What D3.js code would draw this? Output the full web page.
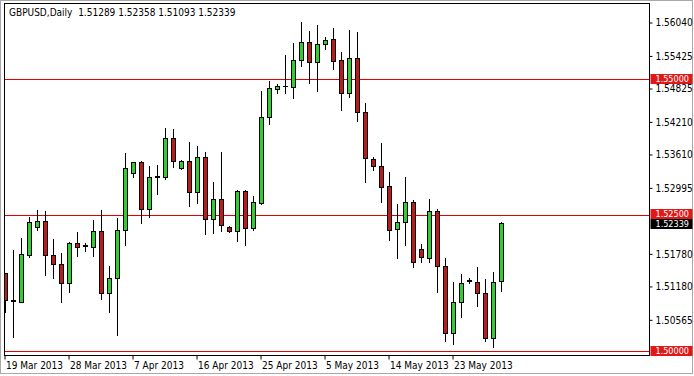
<!DOCTYPE html>
<html>
<head>
<meta charset="utf-8">
<script src="https://cdn.jsdelivr.net/npm/d3@7"></script>
<style>
  body { margin: 0; background: #fff; }
  svg { display: block; }
  text { font-family: "DejaVu Sans Condensed", "DejaVu Sans", "Liberation Sans", sans-serif; }
</style>
</head>
<body>
<script>
// daily bars (forex, Sunday sessions included)
const dates = [
  "2013-03-19","2013-03-20","2013-03-21","2013-03-22","2013-03-24","2013-03-25","2013-03-26","2013-03-27","2013-03-28","2013-03-29","2013-03-31",
  "2013-04-01","2013-04-02","2013-04-03","2013-04-04","2013-04-05","2013-04-07","2013-04-08","2013-04-09","2013-04-10","2013-04-11","2013-04-12",
  "2013-04-14","2013-04-15","2013-04-16","2013-04-17","2013-04-18","2013-04-19","2013-04-21","2013-04-22","2013-04-23","2013-04-24","2013-04-25",
  "2013-04-26","2013-04-28","2013-04-29","2013-04-30","2013-05-01","2013-05-02","2013-05-03","2013-05-05","2013-05-06","2013-05-07","2013-05-08",
  "2013-05-09","2013-05-10","2013-05-12","2013-05-13","2013-05-14","2013-05-15","2013-05-16","2013-05-17","2013-05-19","2013-05-20","2013-05-21",
  "2013-05-22","2013-05-23","2013-05-24","2013-05-26","2013-05-27","2013-05-28","2013-05-29","2013-05-30"
];
const opens = [
  1.51430,1.50930,1.50902,1.51761,1.52282,1.52387,1.51756,1.51590,1.51240,1.51976,1.51935,
  1.51914,1.52203,1.51056,1.51343,1.52221,1.53265,1.53467,1.52602,1.53195,1.53191,1.53909,
  1.53357,1.53496,1.52926,1.53559,1.52418,1.52797,1.52282,1.52208,1.52944,1.52252,1.52724,
  1.54295,1.54810,1.54865,1.54858,1.55350,1.55675,1.55307,1.55644,1.55731,1.55350,1.54737,
  1.55381,1.54398,1.53522,1.53404,1.53031,1.52234,1.52363,1.52731,1.51871,1.51711,1.52576,
  1.51564,1.50320,1.50902,1.51285,1.51270,1.51056,1.50228,1.51289
];
const highs = [
  1.51430,1.51853,1.52079,1.52466,1.52589,1.52576,1.52050,1.51792,1.52000,1.52179,1.51987,
  1.52405,1.52589,1.51564,1.52436,1.53633,1.53467,1.53491,1.53404,1.53417,1.54093,1.54080,
  1.53500,1.53835,1.53767,1.53662,1.53099,1.53651,1.52295,1.52950,1.52950,1.52847,1.54785,
  1.54963,1.54908,1.55442,1.55663,1.56045,1.55883,1.55994,1.55773,1.55939,1.55491,1.55902,
  1.55859,1.54553,1.53570,1.53817,1.53283,1.52700,1.53191,1.52773,1.51958,1.52786,1.52602,
  1.51711,1.51259,1.51406,1.51343,1.51535,1.51319,1.51443,1.52358
];
const lows = [
  1.50712,1.50252,1.50896,1.51730,1.52221,1.51393,1.51332,1.50902,1.51086,1.51748,1.51840,
  1.51748,1.50951,1.50718,1.50289,1.51945,1.53202,1.52355,1.52466,1.52884,1.53154,1.53386,
  1.53338,1.52663,1.52713,1.52142,1.52171,1.52208,1.52179,1.52024,1.51945,1.52221,1.52700,
  1.54166,1.54737,1.54748,1.54656,1.55239,1.54932,1.54785,1.55561,1.55179,1.54430,1.54674,
  1.54233,1.53110,1.53325,1.52742,1.52037,1.51711,1.51945,1.51546,1.51627,1.51638,1.51086,
  1.50166,1.50118,1.50615,1.51240,1.50828,1.50166,1.50062,1.51093
];
const closes = [
  1.50933,1.50920,1.51774,1.52363,1.52387,1.51756,1.51590,1.51240,1.51976,1.51914,1.51930,
  1.52203,1.51056,1.51343,1.52221,1.53357,1.53467,1.52602,1.53191,1.53205,1.53909,1.53496,
  1.53496,1.52926,1.53559,1.52418,1.52797,1.52313,1.52208,1.52944,1.52252,1.52742,1.54295,
  1.54829,1.54871,1.54870,1.55350,1.55675,1.55307,1.55644,1.55718,1.55337,1.54737,1.55381,
  1.54398,1.53552,1.53404,1.53018,1.52221,1.52363,1.52731,1.51627,1.51719,1.52576,1.51564,
  1.50320,1.50902,1.51240,1.51290,1.51056,1.50228,1.51270,1.52339
];

const dateTicks = ["2013-03-19","2013-03-28","2013-04-07","2013-04-16","2013-04-25","2013-05-05","2013-05-14","2013-05-23"];
// the 1.52395 grid label sits under the close tag in the terminal, so it is left out
const priceTicks = [1.56040,1.55425,1.54825,1.54210,1.53610,1.52995,1.51780,1.51180,1.50565];
const levels = [1.55000, 1.52500, 1.50000];
const symbol = "GBPUSD,Daily";

const [w, h] = [694, 376];
const plot = { left: 4.5, top: 3.5, right: 649.5, bottom: 355.5 };

const bars = dates.map((d, i) => ({ date: d, o: opens[i], h: highs[i], l: lows[i], c: closes[i] }));
const last = bars[bars.length - 1];

const svg = d3.select('body')
    .append('svg')
    .attr('width', w)
    .attr('height', h);

// window frame
svg.append('rect')
    .attr('x', 0.5).attr('y', 0.5)
    .attr('width', w - 2).attr('height', h - 3)
    .attr('fill', 'none')
    .attr('stroke', '#a8a8a8');

// Scales
const xScale = d3.scaleBand()
    .domain(dates)
    .range([1, 1 + dates.length * 8])
    .padding(0);

const yScale = d3.scaleLinear()
    .domain([1.50, 1.55])
    .range([350.5, 79]);

const cx = d => xScale(d) + xScale.bandwidth() / 2;
const fmt = d3.format('.5f');
const parse = d3.timeParse('%Y-%m-%d');

svg.append('clipPath')
    .attr('id', 'clip')
    .append('rect')
    .attr('x', plot.left).attr('y', plot.top)
    .attr('width', plot.right - plot.left).attr('height', plot.bottom - plot.top);

// header
svg.append('text')
    .attr('x', 9)
    .attr('y', 16)
    .attr('font-size', '10px')
    .attr('fill', '#000')
    .attr('xml:space', 'preserve')
    .text(`${symbol}  ${fmt(last.o)} ${fmt(last.h)} ${fmt(last.l)} ${fmt(last.c)}`);

// level lines
svg.append('g')
    .attr('shape-rendering', 'crispEdges')
    .selectAll('line')
    .data(levels)
    .enter()
    .append('line')
    .attr('x1', plot.left).attr('x2', plot.right)
    .attr('y1', d => Math.round(yScale(d)) + 0.5)
    .attr('y2', d => Math.round(yScale(d)) + 0.5)
    .attr('stroke', '#e00000')
    .attr('stroke-width', 1);

// candles
const candles = svg.append('g')
    .attr('clip-path', 'url(#clip)')
    .attr('shape-rendering', 'crispEdges');

const candle = candles.selectAll('g')
    .data(bars)
    .enter()
    .append('g');

candle.append('line')
    .attr('x1', d => cx(d.date) + 0.5).attr('x2', d => cx(d.date) + 0.5)
    .attr('y1', d => Math.round(yScale(d.h)))
    .attr('y2', d => Math.round(yScale(d.l)) + 1)
    .attr('stroke', '#000');

candle.each(function (d) {
    const g = d3.select(this);
    const yTop = Math.round(yScale(Math.max(d.o, d.c)));
    const yBot = Math.round(yScale(Math.min(d.o, d.c)));
    if (yBot - yTop < 1) {
        g.append('line')
            .attr('x1', cx(d.date) - 2).attr('x2', cx(d.date) + 3)
            .attr('y1', yTop + 0.5).attr('y2', yTop + 0.5)
            .attr('stroke', '#000');
    } else {
        g.append('rect')
            .attr('x', cx(d.date) - 1.5)
            .attr('y', yTop + 0.5)
            .attr('width', 4)
            .attr('height', yBot - yTop)
            .attr('fill', d.c >= d.o ? '#33cc33' : '#b81c1c')
            .attr('stroke', '#000');
    }
});

// plot frame
svg.append('rect')
    .attr('x', plot.left).attr('y', plot.top)
    .attr('width', plot.right - plot.left).attr('height', plot.bottom - plot.top)
    .attr('fill', 'none')
    .attr('stroke', '#000')
    .attr('shape-rendering', 'crispEdges');

// Axes
const xAxis = d3.axisBottom(xScale)
    .tickValues(dateTicks)
    .tickSize(4)
    .tickSizeOuter(0)
    .tickFormat(d => d3.timeFormat('%-d %b %Y')(parse(d)));

const gx = svg.append('g')
    .attr('transform', `translate(0, ${plot.bottom})`)
    .call(xAxis);
gx.select('.domain').remove();
gx.selectAll('.tick text')
    .attr('text-anchor', 'start')
    .attr('x', 1)
    .attr('y', 13.5)
    .attr('dy', 0)
    .attr('font-family', null)
    .attr('font-size', '10px')
    .attr('fill', '#000');

const yAxis = d3.axisRight(yScale)
    .tickValues(priceTicks)
    .tickSize(3)
    .tickSizeOuter(0)
    .tickFormat(fmt);

const gy = svg.append('g')
    .attr('transform', `translate(${plot.right}, 0)`)
    .call(yAxis);
gy.select('.domain').remove();
gy.selectAll('.tick text')
    .attr('x', 6)
    .attr('font-family', null)
    .attr('font-size', '10px')
    .attr('fill', '#000');

// price tags on the axis (close tag sits just under the 1.525 tag)
const tags = [
    { v: levels[0], bg: '#e01818', dy: 0 },
    { v: levels[1], bg: '#e01818', dy: -1 },
    { v: levels[2], bg: '#e01818', dy: 0 },
    { v: last.c, bg: '#000', dy: 1 }
];

const tag = svg.append('g')
    .selectAll('g')
    .data(tags)
    .enter()
    .append('g')
    .attr('transform', d => `translate(${plot.right + 1}, ${Math.round(yScale(d.v)) + d.dy})`);

tag.append('rect')
    .attr('x', 0)
    .attr('y', -5)
    .attr('width', 42)
    .attr('height', 10)
    .attr('fill', d => d.bg);

tag.append('text')
    .attr('x', 5)
    .attr('y', 0)
    .attr('dy', '0.35em')
    .attr('font-size', '9px')
    .attr('fill', '#fff')
    .text(d => fmt(d.v));
</script>
</body>
</html>
